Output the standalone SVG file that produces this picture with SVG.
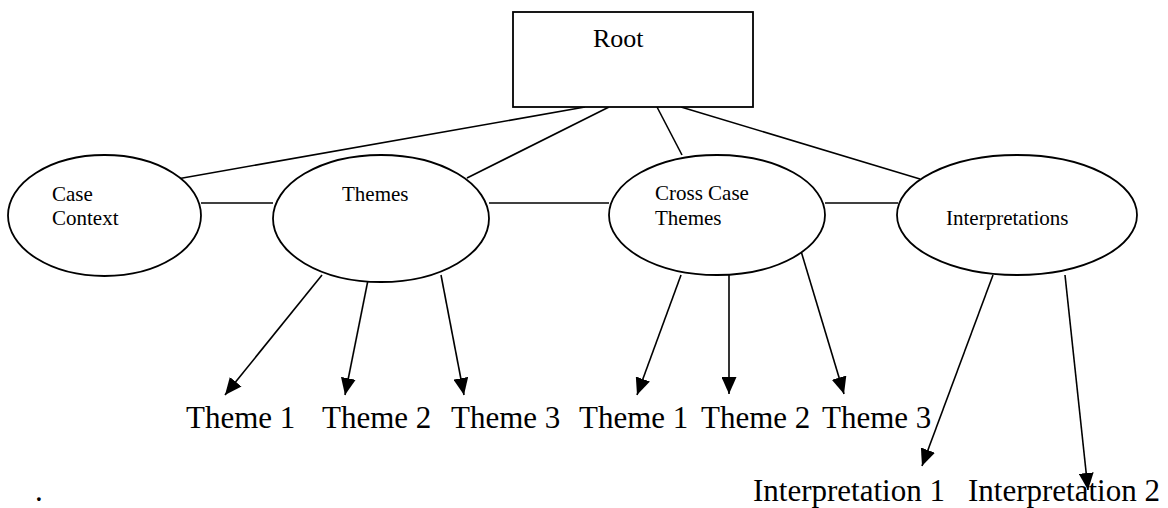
<svg xmlns="http://www.w3.org/2000/svg" width="1168" height="508" viewBox="0 0 1168 508">
<style>
.shape{fill:#fff;stroke:#000;stroke-width:1.8}
.ln{stroke:#000;stroke-width:1.6;fill:none}
.arr{stroke:#000;stroke-width:1.6;fill:none;marker-end:url(#ah)}
.sm{font-family:"Liberation Serif","Times New Roman",serif;font-size:21px;fill:#000}
.rt{font-family:"Liberation Serif","Times New Roman",serif;font-size:26px;fill:#000}
.lb{font-family:"Liberation Serif","Times New Roman",serif;font-size:31px;fill:#000}
</style>
<defs>
<marker id="ah" markerUnits="userSpaceOnUse" markerWidth="17" markerHeight="15" refX="17" refY="7.5" orient="auto">
<path d="M0,0 L17,7.5 L0,15 z" fill="#000"/>
</marker>
</defs>
<rect width="1168" height="508" fill="#fff"/>
<g id="connectors">
<line class="ln" x1="585" y1="107" x2="177" y2="179"/>
<line class="ln" x1="609" y1="107" x2="467" y2="178"/>
<line class="ln" x1="657" y1="107" x2="682" y2="155"/>
<line class="ln" x1="681" y1="107" x2="920" y2="179"/>
<line class="ln" x1="201" y1="203" x2="273" y2="203"/>
<line class="ln" x1="489" y1="203" x2="609" y2="203"/>
<line class="ln" x1="825" y1="203" x2="898" y2="203"/>
<line class="arr" x1="322" y1="275" x2="225" y2="395"/>
<line class="arr" x1="369" y1="275" x2="345" y2="395"/>
<line class="arr" x1="441" y1="275" x2="464" y2="395"/>
<line class="arr" x1="681" y1="275" x2="637" y2="395"/>
<line class="arr" x1="729" y1="251" x2="729" y2="394"/>
<line class="arr" x1="801" y1="251" x2="844" y2="394"/>
<line class="arr" x1="993" y1="275" x2="922" y2="466"/>
<line class="arr" x1="1065" y1="275" x2="1088" y2="490"/>
</g>
<g id="root">
<rect class="shape" x="513" y="12" width="240" height="95"/>
<text class="rt" x="593" y="47">Root</text>
</g>
<g id="case-context">
<ellipse class="shape" cx="104.5" cy="215.5" rx="96.5" ry="60.5"/>
<text class="sm" x="52" y="201">Case</text>
<text class="sm" x="52" y="225">Context</text>
</g>
<g id="themes">
<ellipse class="shape" cx="381" cy="218.5" rx="108" ry="63.5"/>
<text class="sm" x="342" y="201">Themes</text>
</g>
<g id="cross-case-themes">
<ellipse class="shape" cx="717" cy="215" rx="108" ry="60"/>
<text class="sm" x="655" y="200">Cross Case</text>
<text class="sm" x="655" y="225">Themes</text>
</g>
<g id="interpretations">
<ellipse class="shape" cx="1017" cy="215" rx="120" ry="60"/>
<text class="sm" x="946" y="225">Interpretations</text>
</g>
<g id="labels">
<text class="lb" x="186" y="428">Theme 1</text>
<text class="lb" x="322" y="428">Theme 2</text>
<text class="lb" x="451" y="428">Theme 3</text>
<text class="lb" x="579" y="428">Theme 1</text>
<text class="lb" x="701" y="428">Theme 2</text>
<text class="lb" x="822" y="428">Theme 3</text>
<text class="lb" x="753" y="501">Interpretation 1</text>
<text class="lb" x="968" y="501">Interpretation 2</text>
<text class="lb" x="35" y="501">.</text>
</g>
</svg>
